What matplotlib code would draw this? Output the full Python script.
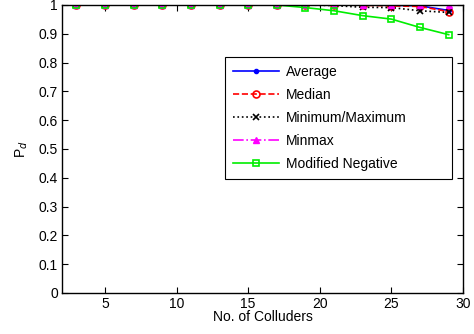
import matplotlib
matplotlib.use("Agg")
import matplotlib.pyplot as plt

colluders = [3, 5, 7, 9, 11, 13, 15, 17, 19, 21, 23, 25, 27, 29]
average = [1, 1, 1, 1, 1, 1, 1, 1, 1, 1, 1, 0.999, 0.997, 0.981]
median = [1, 1, 1, 1, 1, 1, 1, 1, 1, 1, 0.999, 0.997, 0.995, 0.977]
minmax_ = [1, 1, 1, 1, 1, 1, 1, 1, 1, 0.998, 0.992, 0.991, 0.980, 0.974]
minmax2 = [1, 1, 1, 1, 1, 1, 1, 1, 1, 1, 1, 1, 1, 1]
modneg = [1, 1, 1, 1, 1, 1, 1, 1, 0.991, 0.980, 0.963, 0.951, 0.922, 0.897]

plt.rcParams['font.family'] = ['Liberation Sans', 'DejaVu Sans']
fig = plt.figure(figsize=(4.74, 3.34), dpi=100)
L, R, T, B = 62, 463, 5, 293
ax = fig.add_axes([L/474, 1-B/334, (R-L)/474, (B-T)/334])

ax.plot(colluders, average, '-', color='blue', marker='o', markersize=3, lw=1.2, label='Average')
ax.plot(colluders, median, '--', color='red', marker='o', markersize=5, mfc='none', mew=1.2, lw=1.2, label='Median')
ax.plot(colluders, minmax_, ':', color='black', marker='x', markersize=4, mew=1.2, lw=1.2, label='Minimum/Maximum')
ax.plot(colluders, minmax2, '-.', color='magenta', marker='^', markersize=5, lw=1.2, label='Minmax')
ax.plot(colluders, modneg, '-', color='#00ee00', marker='s', markersize=5, mfc='none', mew=1.2, lw=1.2, label='Modified Negative')

ax.set_xlim(2, 30)
ax.set_ylim(0, 1)
ax.set_xticks([5, 10, 15, 20, 25, 30])
ax.set_yticks([0, 0.1, 0.2, 0.3, 0.4, 0.5, 0.6, 0.7, 0.8, 0.9, 1])
ax.set_yticklabels(['0', '0.1', '0.2', '0.3', '0.4', '0.5', '0.6', '0.7', '0.8', '0.9', '1'])
ax.tick_params(direction='in', top=True, right=True, labelsize=10, length=4, pad=3)
for s in ax.spines.values():
    s.set_linewidth(1.0)
ax.set_xlabel('No. of Colluders', fontsize=10, labelpad=-1)
ax.set_ylabel('P$_d$', fontsize=10, labelpad=6)

x0 = (225 - L) / (R - L)
w = (452 - 225) / (R - L)
y1 = 1 - (57 - T) / (B - T)
h = (179 - 57) / (B - T)
leg = ax.legend(loc='upper left', bbox_to_anchor=(x0, y1 - h, w, h), mode='expand', borderaxespad=0,
                fontsize=10, frameon=True, fancybox=False, edgecolor='black', framealpha=1,
                handlelength=3.3, borderpad=0.6, labelspacing=0.64, handletextpad=0.5)
leg.get_frame().set_linewidth(0.8)

fig.savefig('out.png', dpi=100)
